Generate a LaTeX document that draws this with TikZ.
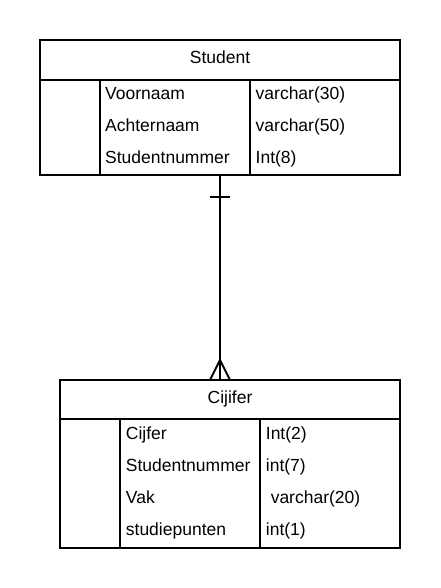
\documentclass[tikz,border=0pt]{standalone}
\usepackage{fontspec}
\setmainfont{Liberation Sans}
\begin{document}
\begin{tikzpicture}[x=1pt,y=-1pt,
  txt/.style={anchor=base west,inner sep=0pt,font=\fontsize{17.5}{20}\selectfont},
  ttl/.style={anchor=base,inner sep=0pt,font=\fontsize{17.5}{20}\selectfont},
  ln/.style={line width=2pt}]
\useasboundingbox (0,0) rectangle (440,588);
% Student table
\draw[ln] (40,40) rectangle (400,175);
\draw[ln] (40,80) -- (400,80);
\draw[ln] (100,80) -- (100,175);
\draw[ln] (250,80) -- (250,175);
\coordinate (sbot) at (220,175);
\node[ttl] (st) at (220,63.3) {Student};
\node[txt] (s1) at (105,100) {Voornaam};
\node[txt] (s2) at (105,131.7) {Achternaam};
\node[txt] (s3) at (105,163.3) {Studentnummer};
\node[txt] (t1) at (255.5,100) {varchar(30)};
\node[txt] (t2) at (255.5,131.7) {varchar(50)};
\node[txt] (t3) at (255.5,163.3) {Int(8)};
% Cijifer table
\draw[ln] (60,380) rectangle (400,548);
\draw[ln] (60,419) -- (400,419);
\draw[ln] (120,419) -- (120,548);
\draw[ln] (260,419) -- (260,548);
\coordinate (ctop) at (220,380);
\node[ttl] (ct) at (230,403.3) {Cijifer};
\node[txt] (c1) at (125.7,439.3) {Cijfer};
\node[txt] (c2) at (125.7,471.7) {Studentnummer};
\node[txt] (c3) at (125.7,503.3) {Vak};
\node[txt] (c4) at (125.7,535.7) {studiepunten};
\node[txt] (d1) at (265.7,439.3) {Int(2)};
\node[txt] (d2) at (265.7,471.7) {int(7)};
\node[txt] (d3) at (265.7,503.3) {\ varchar(20)};
\node[txt] (d4) at (265.7,535.7) {int(1)};
% connector
\draw[ln] (sbot) -- (ctop);
\draw[ln] ([xshift=-10]sbot |- 0,197) -- ([xshift=10]sbot |- 0,197);
\draw[ln,line join=miter] ([xshift=-10]ctop) -- ([yshift=20]ctop) -- ([xshift=10]ctop);
\end{tikzpicture}
\end{document}
